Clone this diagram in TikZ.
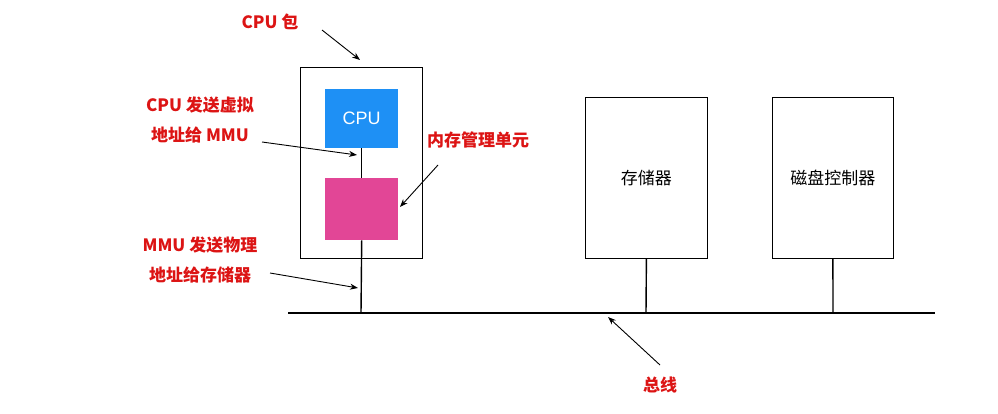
\documentclass[tikz,border=0pt]{standalone}
\usepackage{fontspec}
\setmainfont{Liberation Sans}
\newfontfamily\cjk{Noto Sans CJK SC}
\usetikzlibrary{arrows.meta}
\definecolor{lblred}{RGB}{220,20,20}
\definecolor{cpublue}{RGB}{30,144,245}
\definecolor{mmupink}{RGB}{226,70,150}
\begin{document}
\begin{tikzpicture}[x=1pt,y=-1pt,
  box/.style={draw,line width=0.8pt,fill=white},
  lbl/.style={text=lblred,font=\cjk\bfseries\fontsize{17}{30}\selectfont,align=center},
  inner/.style={font=\cjk\fontsize{17}{20}\selectfont},
  ptr/.style={-{Stealth[length=8pt,width=6pt]},line width=0.9pt},
  wire/.style={line width=1.4pt}]
\useasboundingbox (0,0) rectangle (998,414);
\node[box,minimum width=122pt,minimum height=191pt,anchor=north west] (pkg) at (300,67) {};
\node[fill=cpublue,minimum width=73pt,minimum height=59pt,anchor=north west,text=white,font=\fontsize{18}{20}\selectfont] (cpu) at (325,89) {CPU};
\node[fill=mmupink,minimum width=73pt,minimum height=62pt,anchor=north west] (mmu) at (325,178) {};
\node[box,minimum width=122pt,minimum height=161pt,anchor=north west,inner] (mem) at (585,97) {存储器};
\node[box,minimum width=121pt,minimum height=161pt,anchor=north west,inner] (disk) at (772,97) {磁盘控制器};
\coordinate (busL) at (288,313);
\coordinate (busR) at (935,313);
\draw[wire] (busL) -- (busR);
\draw[wire] (cpu.south) -- (mmu.north);
\coordinate (m1) at (361,313);
\draw[wire] (mmu.south) -- (m1);
\coordinate (m2) at (646,313);
\draw[wire] (mem.south) -- (m2);
\coordinate (m3) at (833,313);
\draw[wire] (disk.south) -- (m3);
\node[lbl] (l1) at (270,22) {CPU 包};
\coordinate (t1) at (360,60);
\draw[ptr] (322,30) -- (t1);
\node[lbl] (l2) at (200,120) {CPU 发送虚拟\\地址给 MMU};
\coordinate (t2) at (357,155);
\draw[ptr] (262,142) -- (t2);
\node[lbl] (l3) at (478,140) {内存管理单元};
\coordinate (t3) at (400,207);
\draw[ptr] (438,165) -- (t3);
\node[lbl] (l4) at (200,260) {MMU 发送物理\\地址给存储器};
\coordinate (t4) at (358,288);
\draw[ptr] (270,273) -- (t4);
\node[lbl] (l5) at (660,385) {总线};
\coordinate (t5) at (608,317);
\draw[ptr] (660,365) -- (t5);
\end{tikzpicture}
\end{document}
